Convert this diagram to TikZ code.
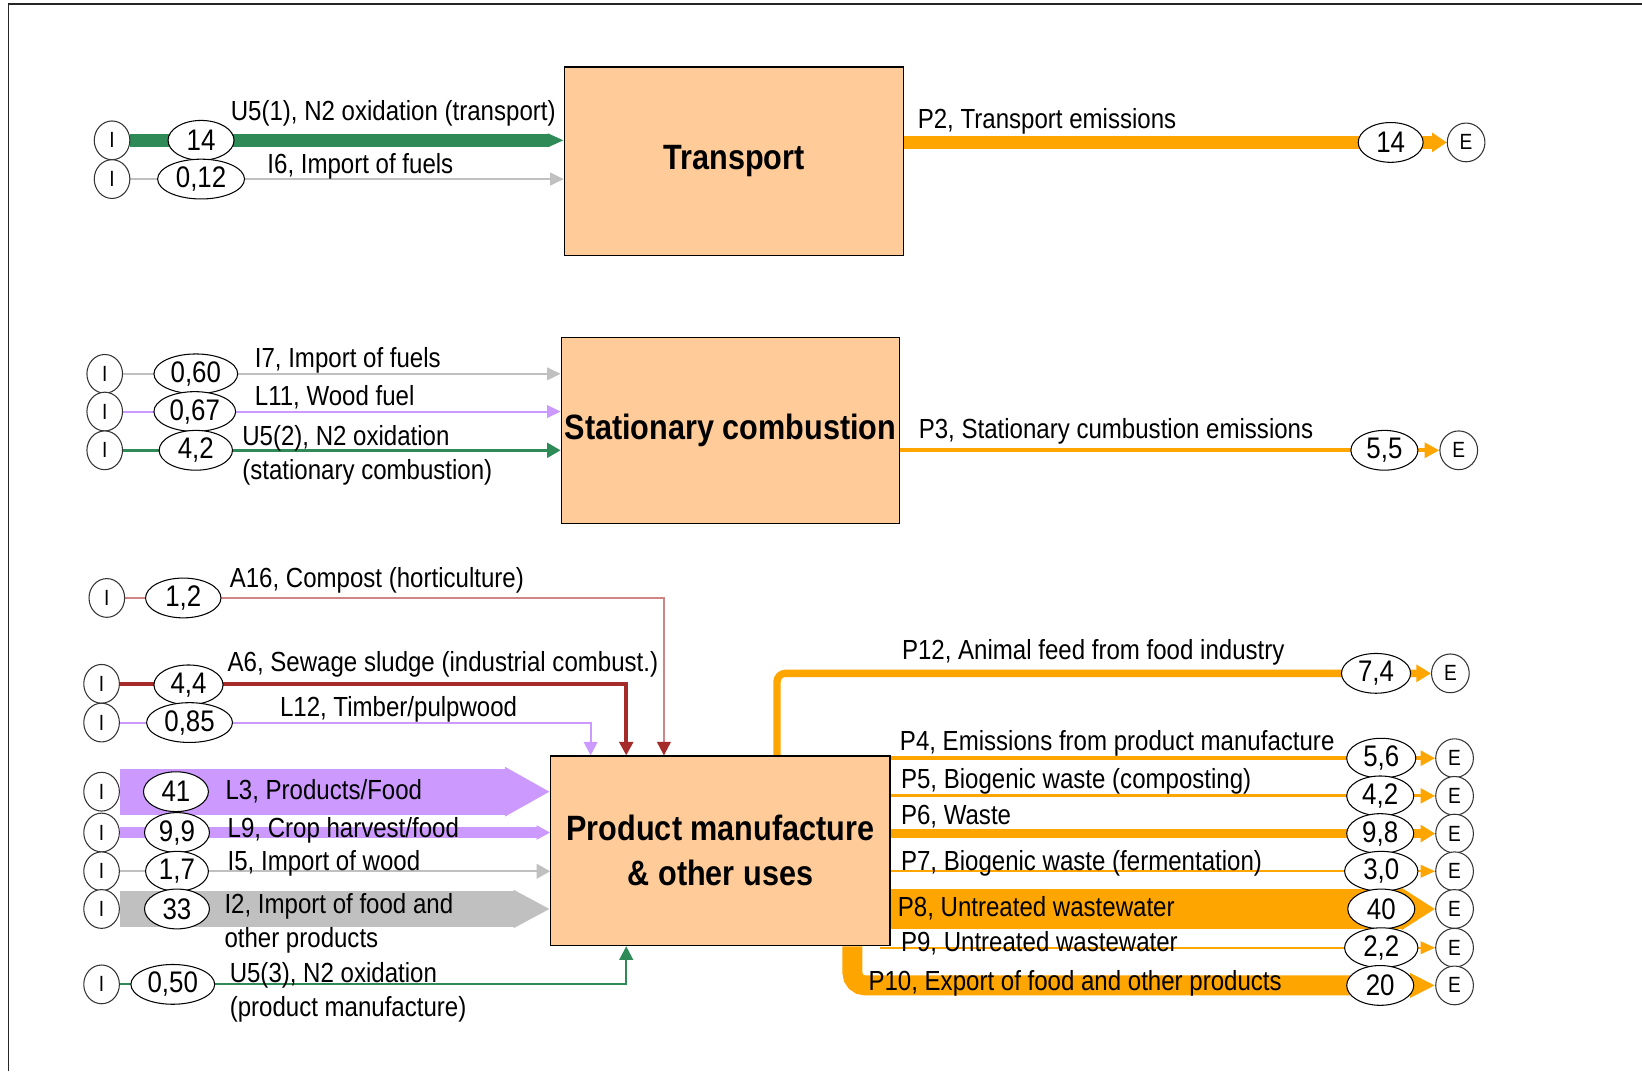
\documentclass[tikz,border=0pt]{standalone}
\usepackage{fontspec}
\setmainfont{Liberation Sans}[FakeStretch=0.87]
\usetikzlibrary{arrows.meta,shapes.geometric,calc}
\pgfdeclarelayer{bgpaper}
\pgfdeclarelayer{flows}
\pgfsetlayers{bgpaper,flows,main}
\definecolor{peach}{HTML}{FFCC99}
\definecolor{fgreen}{HTML}{2E8B57}
\definecolor{fgray}{HTML}{C0C0C0}
\definecolor{fpurple}{HTML}{CC99FF}
\definecolor{fred}{HTML}{A52A2A}
\definecolor{fredlt}{HTML}{CF8585}
\definecolor{forange}{HTML}{FFA500}
\tikzset{
  procbox/.style={draw=black, fill=peach, line width=0.6pt, minimum width=162pt, minimum height=90pt,
    inner sep=0pt, align=center, font=\bfseries\fontsize{16.8}{21.5}\selectfont},
  inode/.style={ellipse, draw=black!80, fill=white, line width=0.5pt, minimum width=17pt,
    minimum height=18.5pt, inner sep=0pt, font=\fontsize{10.5}{12}\selectfont},
  enode/.style={inode, minimum width=18pt},
  val/.style={ellipse, draw=black, fill=white, line width=0.5pt, minimum height=19pt,
    inner sep=0pt, font=\fontsize{14.2}{16}\selectfont},
  lab/.style={anchor=base west, inner sep=0pt, font=\fontsize{13.2}{15}\selectfont},
  flow/.style n args={3}{line width=#1, -{Triangle[length=#2,width=#3]}},
}
\begin{document}
\begin{tikzpicture}[x=0.5pt,y=-0.5pt]
\useasboundingbox (0,0) rectangle (1568,1023);
\begin{pgfonlayer}{bgpaper}
\fill[white] (0,0) rectangle (1568,1023);
\end{pgfonlayer}
\draw[line width=0.8pt, black!85] (8,1023) -- (8,4) -- (1568,4);

% ---------------- Transport ----------------
\node[procbox] (tr) at (701,154) {Transport};
\node[inode] (iU1) at (107,134) {I};
\node[val,minimum width=31.5pt] (vU1) at (192,134) {14};
\node[inode] (iI6) at (107,171) {I};
\node[val,minimum width=41.5pt] (vI6) at (192,171) {0,12};
\node[lab] (lU1) at (220,115) {U5(1), N2 oxidation (transport)};
\node[lab] (lI6) at (255,166) {I6, Import of fuels};
\node[val,minimum width=31pt] (vP2) at (1328,136) {14};
\node[enode] (eP2) at (1400,136) {E};
\node[lab] (lP2) at (876,123) {P2, Transport emissions};

% ---------------- Stationary combustion ----------------
\node[procbox, minimum width=161.5pt, minimum height=89pt] (sc) at (697.5,411) {Stationary combustion};
\node[inode] (iI7) at (100,357) {I};
\node[val,minimum width=40pt] (vI7) at (187,357) {0,60};
\node[inode] (iL11) at (100,393) {I};
\node[val,minimum width=39pt] (vL11) at (186,393) {0,67};
\node[inode] (iU2) at (100,430) {I};
\node[val,minimum width=35pt] (vU2) at (187,430) {4,2};
\node[lab] (lI7) at (243,351) {I7, Import of fuels};
\node[lab] (lL11) at (243,387) {L11, Wood fuel};
\node[lab] (lU2a) at (231,425) {U5(2), N2 oxidation};
\node[lab] (lU2b) at (231,458) {(stationary combustion)};
\node[val,minimum width=32pt] (vP3) at (1322,430) {5,5};
\node[enode] (eP3) at (1393,430) {E};
\node[lab] (lP3) at (877,419) {P3, Stationary cumbustion emissions};

% ---------------- Product manufacture ----------------
\node[procbox, minimum height=90.5pt] (pm) at (688,812.5) {Product manufacture\\\& other uses};
\node[inode] (iA16) at (102,571) {I};
\node[val,minimum width=36pt] (vA16) at (175,571) {1,2};
\node[inode] (iA6) at (97,653) {I};
\node[val,minimum width=33pt] (vA6) at (180,654) {4,4};
\node[inode] (iL12) at (97,690) {I};
\node[val,minimum width=41pt] (vL12) at (181,690) {0,85};
\node[inode] (iL3) at (97,756) {I};
\node[val,minimum width=31pt] (vL3) at (168,756) {41};
\node[inode] (iL9) at (97,795) {I};
\node[val,minimum width=31pt] (vL9) at (169,795) {9,9};
\node[inode] (iI5) at (97,832) {I};
\node[val,minimum width=30pt] (vI5) at (169,832) {1,7};
\node[inode] (iI2) at (97,868) {I};
\node[val,minimum width=31pt] (vI2) at (169,868) {33};
\node[inode] (iU3) at (97,940) {I};
\node[val,minimum width=40pt] (vU3) at (165,940) {0,50};

\node[lab] (lA16) at (219,561) {A16, Compost (horticulture)};
\node[lab] (lA6) at (217,641) {A6, Sewage sludge (industrial combust.)};
\node[lab] (lL12) at (267,684) {L12, Timber/pulpwood};
\node[lab] (lL3) at (215,763) {L3, Products/Food};
\node[lab] (lL9) at (217,800) {L9, Crop harvest/food};
\node[lab] (lI5) at (217,831) {I5, Import of wood};
\node[lab] (lI2a) at (214,872) {I2, Import of food and};
\node[lab] (lI2b) at (214,905) {other products};
\node[lab] (lU3a) at (219,938) {U5(3), N2 oxidation};
\node[lab] (lU3b) at (219,971) {(product manufacture)};

% right side
\node[val,minimum width=33pt] (vP12) at (1314,643) {7,4};
\node[enode] (eP12) at (1385,643) {E};
\node[val,minimum width=33pt] (vP4) at (1319,724) {5,6};
\node[enode] (eP4) at (1389,724) {E};
\node[val,minimum width=32pt] (vP5) at (1318,760) {4,2};
\node[enode] (eP5) at (1389,760) {E};
\node[val,minimum width=32pt] (vP6) at (1318,796) {9,8};
\node[enode] (eP6) at (1389,796) {E};
\node[val,minimum width=35pt] (vP7) at (1319,832) {3,0};
\node[enode] (eP7) at (1389,832) {E};
\node[val,minimum width=32pt] (vP8) at (1319,868) {40};
\node[enode] (eP8) at (1389,868) {E};
\node[val,minimum width=35pt] (vP9) at (1319,905) {2,2};
\node[enode] (eP9) at (1389,905) {E};
\node[val,minimum width=32pt] (vP10) at (1318,941) {20};
\node[enode] (eP10) at (1389,941) {E};

\node[lab] (lP12) at (861,630) {P12, Animal feed from food industry};
\node[lab] (lP4) at (859,717) {P4, Emissions from product manufacture};
\node[lab] (lP5) at (860,753) {P5, Biogenic waste (composting)};
\node[lab] (lP6) at (860,787) {P6, Waste};
\node[lab] (lP7) at (860,831) {P7, Biogenic waste (fermentation)};
\node[lab] (lP8) at (857,875) {P8, Untreated wastewater};
\node[lab] (lP9) at (860,909) {P9, Untreated wastewater};
\node[lab] (lP10) at (829,946) {P10, Export of food and other products};

\coordinate (sP9) at ($(pm.south east)+(-10,0)$);

% ---------------- flows (behind) ----------------
\begin{pgfonlayer}{flows}
% transport
\draw[fgreen, flow={6pt}{7.5pt}{6pt}] (iU1.east) -- (iU1.east -| tr.west);
\draw[fgray, flow={1pt}{6.5pt}{6pt}] (iI6.east) -- (iI6.east -| tr.west);
\draw[forange, flow={6pt}{7pt}{9pt}] (tr.east |- eP2.west) -- (eP2.west);
% stationary
\draw[fgray, flow={1pt}{6.5pt}{6pt}] (iI7.east) -- (iI7.east -| sc.west);
\draw[fpurple, flow={1pt}{6.5pt}{6pt}] (iL11.east) -- (iL11.east -| sc.west);
\draw[fgreen, flow={1.5pt}{6.5pt}{7pt}] (iU2.east) -- (iU2.east -| sc.west);
\draw[forange, flow={2pt}{7pt}{7pt}] (sc.east |- eP3.west) -- (eP3.west);
% product manufacture inputs
\draw[fredlt, line width=1pt, -{Triangle[length=6.5pt,width=6.5pt,color=fred]}]
  (iA16.east) -| ([xshift=-27pt]pm.north);
\draw[fred, flow={2pt}{6.5pt}{6.5pt}] (iA6.east) -| ([xshift=-45pt]pm.north);
\draw[fpurple, flow={1pt}{6.5pt}{6.5pt}] (iL12.east) -| ([xshift=-62pt]pm.north);
\draw[fpurple, flow={22pt}{21.5pt}{22pt}] (iL3.east) -- (iL3.east -| pm.west);
\draw[fpurple, flow={5pt}{6.5pt}{6.5pt}] (iL9.east) -- (iL9.east -| pm.west);
\draw[fgray, flow={1pt}{6.5pt}{7pt}] (iI5.east) -- (iI5.east -| pm.west);
\draw[fgray, flow={17pt}{17.5pt}{17pt}] (iI2.east) -- (iI2.east -| pm.west);
\draw[fgreen, flow={1pt}{6.5pt}{6.5pt}] (iU3.east) -| ([xshift=-45pt]pm.south);
% product manufacture outputs
\draw[forange, line width=3.5pt, rounded corners=4pt, -{Triangle[length=7pt,width=8pt]}]
  ([xshift=27pt]pm.north) |- (eP12.west);
\draw[forange, flow={2pt}{7pt}{7pt}] (pm.east |- eP4.west) -- (eP4.west);
\draw[forange, flow={1.5pt}{7pt}{7pt}] (pm.east |- eP5.west) -- (eP5.west);
\draw[forange, flow={4pt}{7pt}{8pt}] (pm.east |- eP6.west) -- (eP6.west);
\draw[forange, flow={1pt}{7pt}{6pt}] (pm.east |- eP7.west) -- (eP7.west);
\draw[forange, flow={19pt}{16pt}{19pt}] (pm.east |- eP8.west) -- (eP8.west);
\draw[forange, flow={1pt}{7pt}{6pt}] (sP9 |- eP9.west) -- (eP9.west);
\draw[forange, line width=9.5pt, rounded corners=6pt, -{Triangle[length=12pt,width=11pt]}]
  ([xshift=63pt]pm.south) |- (eP10.west);
\end{pgfonlayer}
\end{tikzpicture}
\end{document}
